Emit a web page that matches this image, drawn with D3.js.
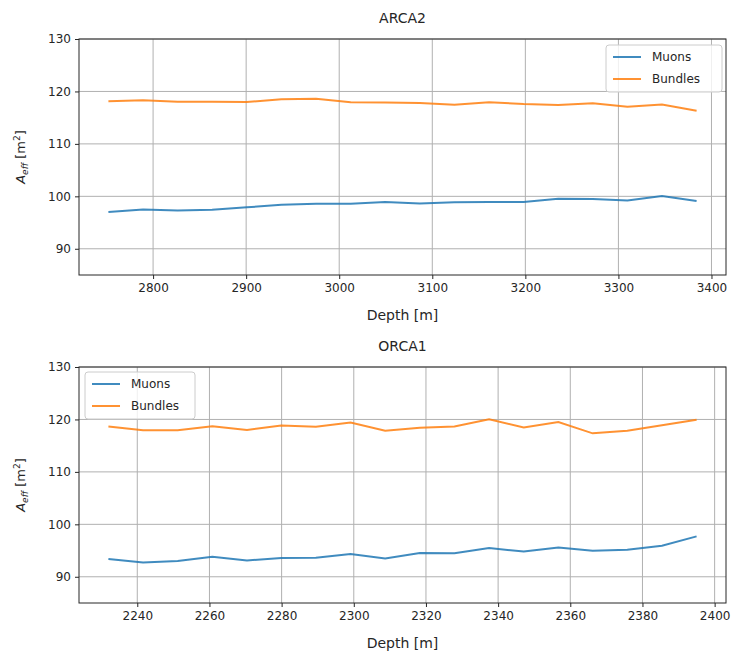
<!DOCTYPE html>
<html><head><meta charset="utf-8">
<script src="https://cdn.jsdelivr.net/npm/d3@7"></script>
<style>body{margin:0;background:#fff}svg{display:block}text{font-family:"DejaVu Sans",sans-serif;fill:#262626}</style>
</head><body>
<script>
const arcaDepth = [2752,2789.2,2826.4,2863.5,2900.7,2937.9,2975.1,3012.3,3049.4,3086.6,3123.8,3161,3198.1,3235.3,3272.5,3309.7,3346.8,3384];
const arcaMuons = [97.0,97.5,97.3,97.45,97.9,98.4,98.6,98.6,98.9,98.65,98.85,98.9,98.9,99.55,99.5,99.2,100.05,99.1];
const arcaBundles = [118.15,118.3,118.05,118.05,118.0,118.5,118.6,117.95,117.9,117.8,117.45,117.95,117.6,117.4,117.75,117.1,117.5,116.3];
const arcaXTicks = [2800,2900,3000,3100,3200,3300,3400];

const orcaDepth = [2232,2241.6,2251.2,2260.8,2270.4,2279.9,2289.5,2299.1,2308.7,2318.3,2327.9,2337.5,2347.1,2356.7,2366.2,2375.8,2385.4,2395];
const orcaMuons = [93.4,92.7,93.0,93.8,93.1,93.6,93.65,94.35,93.5,94.55,94.5,95.5,94.8,95.6,94.95,95.15,95.9,97.7];
const orcaBundles = [118.65,117.95,117.95,118.7,118.0,118.85,118.6,119.4,117.85,118.4,118.65,120.05,118.45,119.5,117.35,117.85,118.9,119.95];
const orcaXTicks = [2240,2260,2280,2300,2320,2340,2360,2380,2400];

const yTicks = [90,100,110,120,130];
const seriesNames = ["Muons","Bundles"];
const colors = ["#1f77b4","#ff7f0e"];

const W = 731, H = 654;
const svg = d3.select("body").append("svg").attr("width",W).attr("height",H);

function panel(title, depth, muons, bundles, xTicks, top, legendPos){
  const L = 79, R = 726, T = top, B = top + 236;
  const xmin = d3.min(depth), xmax = d3.max(depth), pad = (xmax - xmin)*0.05;
  const x = d3.scaleLinear().domain([xmin-pad, xmax+pad]).range([L,R]);
  const y = d3.scaleLinear().domain([85,130]).range([B,T]);
  const g = svg.append("g");
  g.append("g").selectAll("line").data(xTicks).join("line")
    .attr("x1",d=>x(d)).attr("x2",d=>x(d)).attr("y1",T).attr("y2",B)
    .attr("stroke","#b0b0b0").attr("stroke-width",1);
  g.append("g").selectAll("line").data(yTicks).join("line")
    .attr("x1",L).attr("x2",R).attr("y1",d=>y(d)).attr("y2",d=>y(d))
    .attr("stroke","#b0b0b0").attr("stroke-width",1);
  const series = [muons, bundles];
  series.forEach((s,i)=>{
    g.append("path").datum(s.map((v,j)=>[depth[j],v]))
      .attr("fill","none").attr("stroke",colors[i]).attr("stroke-width",2).attr("stroke-opacity",0.85)
      .attr("d", d3.line().x(d=>x(d[0])).y(d=>y(d[1])));
  });
  const xa = g.append("g").attr("transform",`translate(0,${B})`)
    .call(d3.axisBottom(x).tickValues(xTicks).tickFormat(d3.format("d")).tickSize(4).tickPadding(4));
  const ya = g.append("g").attr("transform",`translate(${L},0)`)
    .call(d3.axisLeft(y).tickValues(yTicks).tickFormat(d3.format("d")).tickSize(4).tickPadding(4));
  [xa,ya].forEach(a=>{
    a.select(".domain").remove();
    a.selectAll("text").style("font-size","12px").attr("fill","#262626").style("font-family","DejaVu Sans");
    a.selectAll("line").attr("stroke","#262626");
  });
  g.append("rect").attr("x",L).attr("y",T).attr("width",R-L).attr("height",B-T)
    .attr("fill","none").attr("stroke","#262626").attr("stroke-width",1);
  g.append("text").attr("x",(L+R)/2).attr("y",T-16).attr("text-anchor","middle").style("font-size","14px").text(title);
  g.append("text").attr("x",(L+R)/2).attr("y",B+45).attr("text-anchor","middle").style("font-size","14px").text("Depth [m]");
  const yl = g.append("text").attr("transform",`translate(25,${(T+B)/2}) rotate(-90)`).attr("text-anchor","middle").style("font-size","13px");
  yl.append("tspan").style("font-style","italic").text("A");
  yl.append("tspan").attr("dy",3).style("font-size","9px").style("font-style","italic").text("eff");
  yl.append("tspan").attr("dy",-3).text(" [m");
  yl.append("tspan").attr("dy",-5).style("font-size","9px").text("2");
  yl.append("tspan").attr("dy",5).text("]");
  const lg = g.append("g").attr("transform",`translate(${legendPos[0]},${legendPos[1]})`);
  lg.append("rect").attr("width",legendPos[2]).attr("height",47).attr("rx",3)
    .attr("fill","#fff").attr("fill-opacity",0.8).attr("stroke","#cccccc");
  seriesNames.forEach((n,i)=>{
    lg.append("line").attr("x1",7).attr("x2",35).attr("y1",12+i*22).attr("y2",12+i*22)
      .attr("stroke",colors[i]).attr("stroke-width",2).attr("stroke-opacity",0.85);
    lg.append("text").attr("x",46).attr("y",16+i*22).style("font-size","12px").text(n);
  });
}

panel("ARCA2", arcaDepth, arcaMuons, arcaBundles, arcaXTicks, 39, [606,45,116]);
panel("ORCA1", orcaDepth, orcaMuons, orcaBundles, orcaXTicks, 367, [85,372,110]);
</script>
</body></html>
